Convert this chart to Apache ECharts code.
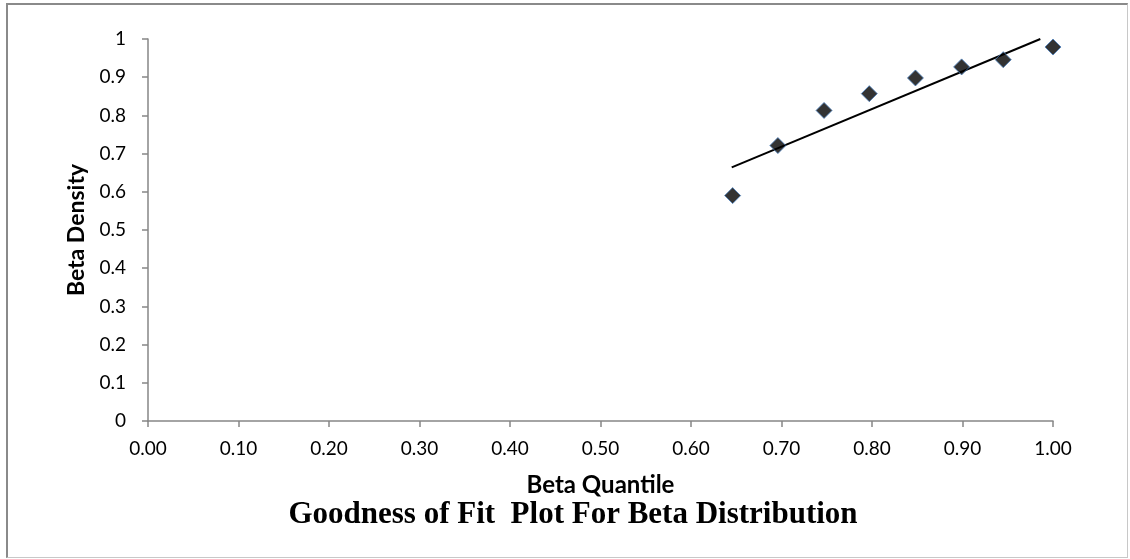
<!DOCTYPE html>
<html>
<head>
<meta charset="utf-8">
<script src="https://cdn.jsdelivr.net/npm/echarts@6/dist/echarts.min.js"></script>
<style>
html,body{margin:0;padding:0;background:#fff;}
#frame{position:absolute;left:6px;top:3px;width:1122px;height:555px;box-sizing:border-box;border-left:2px solid #8a8a8a;border-top:2px solid #8a8a8a;border-right:1px solid #c8c8c8;border-bottom:1px solid #c8c8c8;}
#chart{position:absolute;left:0;top:0;width:1130px;height:559px;}
</style>
</head>
<body>
<div id="frame"></div>
<div id="chart"></div>
<script>
const quantiles = [0.646, 0.696, 0.747, 0.797, 0.848, 0.899, 0.945, 1.0];
const densities = [0.590, 0.721, 0.813, 0.857, 0.898, 0.927, 0.946, 0.979];
const trendX = [0.645, 0.986];
const trendY = [0.664, 1.0];
const titleText = 'Goodness of Fit  Plot For Beta Distribution';
const xName = 'Beta Quantile';
const yName = 'Beta Density';

const points = quantiles.map((q, i) => [q, densities[i]]);
const trend = trendX.map((x, i) => [x, trendY[i]]);
const labelFont = 'Lato, "Open Sans", sans-serif';

const chart = echarts.init(document.getElementById('chart'), null, {renderer: 'canvas'});
chart.setOption({
  backgroundColor: 'transparent',
  animation: false,
  title: {
    text: titleText,
    left: 573,
    textAlign: 'center',
    top: 499,
    padding: 0,
    textStyle: {fontFamily: '"Liberation Serif", "Times New Roman", serif', fontWeight: 'bold', fontSize: 31, color: '#000'}
  },
  grid: {left: 148, right: 77, top: 39, bottom: 138},
  xAxis: {
    type: 'value', min: 0, max: 1, interval: 0.1,
    name: xName, nameLocation: 'middle', nameGap: 52,
    nameTextStyle: {fontFamily: labelFont, fontWeight: 'bold', fontSize: 24, color: '#000'},
    axisLine: {show: true, lineStyle: {color: '#868686', width: 1.5}},
    axisTick: {show: true, length: 6, lineStyle: {color: '#868686', width: 1.5}},
    axisLabel: {formatter: v => v.toFixed(2), color: '#000', fontFamily: labelFont, fontSize: 19, margin: 18},
    splitLine: {show: false}
  },
  yAxis: {
    type: 'value', min: 0, max: 1, interval: 0.1,
    name: yName, nameLocation: 'middle', nameGap: 59, nameRotate: 90,
    nameTextStyle: {fontFamily: labelFont, fontWeight: 'bold', fontSize: 23, color: '#000'},
    axisLine: {show: true, lineStyle: {color: '#868686', width: 1.5}},
    axisTick: {show: true, length: 6, lineStyle: {color: '#868686', width: 1.5}},
    axisLabel: {color: '#000', fontFamily: labelFont, fontSize: 19, margin: 22},
    splitLine: {show: false}
  },
  series: [
    {
      type: 'line', data: trend, showSymbol: false, symbol: 'none',
      lineStyle: {color: '#000', width: 2}, z: 2
    },
    {
      type: 'scatter', data: points, symbol: 'diamond', symbolSize: 16,
      itemStyle: {color: '#000', borderColor: '#4a7ebb', borderWidth: 1}, z: 3
    }
  ]
});
</script>
</body>
</html>
